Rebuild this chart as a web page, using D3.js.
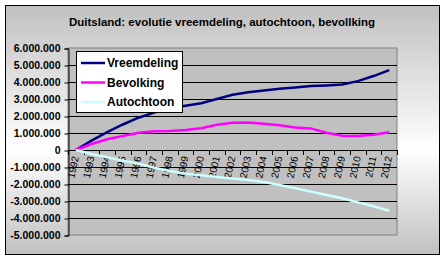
<!DOCTYPE html>
<html>
<head>
<meta charset="utf-8">
<script src="https://cdn.jsdelivr.net/npm/d3@7"></script>
<style>
  body { margin: 0; background: #fff; }
  svg { display: block; }
</style>
</head>
<body>
<div id="chart"></div>
<script>
// chart data
var years = ["1992", "1993", "1994", "1995", "1996", "1997", "1998", "1999", "2000", "2001", "2002",
             "2003", "2004", "2005", "2006", "2007", "2008", "2009", "2010", "2011", "2012"]
var vreemdeling = [0, 550000, 1050000, 1500000, 1900000, 2200000, 2450000, 2600000, 2750000, 3000000, 3250000,
                   3400000, 3500000, 3600000, 3680000, 3760000, 3800000, 3850000, 4050000, 4350000, 4700000]
var bevolking = [0, 350000, 630000, 820000, 1020000, 1100000, 1120000, 1180000, 1280000, 1480000, 1600000,
                 1620000, 1550000, 1450000, 1320000, 1270000, 1020000, 840000, 820000, 900000, 1050000]
var autochtoon = [0, -240000, -430000, -630000, -800000, -1040000, -1240000, -1390000, -1490000, -1590000, -1670000,
                  -1760000, -1880000, -2060000, -2250000, -2450000, -2650000, -2840000, -3080000, -3310000, -3570000]
var yTicks = [6000000, 5000000, 4000000, 3000000, 2000000, 1000000, 0, -1000000, -2000000, -3000000, -4000000, -5000000]

var series = [
  {name: "Vreemdeling", values: vreemdeling, color: "#000080"},
  {name: "Bevolking", values: bevolking, color: "#ff00ff"},
  {name: "Autochtoon", values: autochtoon, color: "#ccffff"}
]

var width = 445,
    height = 260

var plot = {left: 68, right: 397, top: 48, bottom: 235}

var svg = d3.select("#chart")
  .append("svg")
    .attr("width", width)
    .attr("height", height)
    .style("font-family", "Arial, 'Liberation Sans', sans-serif")

// background gradient of the chart area
var grad = svg.append("defs").append("linearGradient")
    .attr("id", "bg")
    .attr("x1", 0).attr("y1", 0).attr("x2", 0).attr("y2", 1)
grad.append("stop").attr("offset", "0%").attr("stop-color", "#c0c0c0")
grad.append("stop").attr("offset", "58%").attr("stop-color", "#ffffff")
grad.append("stop").attr("offset", "100%").attr("stop-color", "#c0c0c0")

svg.append("rect")
    .attr("x", 5.5).attr("y", 5.5)
    .attr("width", 434).attr("height", 249)
    .attr("fill", "url(#bg)")
    .attr("stroke", "#000")

// title
svg.append("text")
    .attr("x", 222)
    .attr("y", 26)
    .attr("text-anchor", "middle")
    .style("font-size", "11.5px")
    .style("font-weight", "bold")
    .text("Duitsland: evolutie vreemdeling, autochtoon, bevollking")

// scales
var x = d3.scaleBand()
  .domain(years)
  .range([plot.left, plot.right])

var y = d3.scaleLinear()
  .domain([-5000000, 6000000])
  .range([plot.bottom, plot.top])

// plot area
svg.append("rect")
    .attr("x", plot.left).attr("y", plot.top)
    .attr("width", plot.right - plot.left).attr("height", plot.bottom - plot.top)
    .attr("fill", "#c0c0c0")
    .attr("stroke", "#808080")

// gridlines
svg.append("g")
  .selectAll("line")
  .data(yTicks.filter(function(d) { return d < 6000000 && d > -5000000 }))
  .enter()
  .append("line")
    .attr("x1", plot.left).attr("x2", plot.right)
    .attr("y1", function(d) { return Math.round(y(d)) + 0.5 })
    .attr("y2", function(d) { return Math.round(y(d)) + 0.5 })
    .attr("stroke", "#000")

// y axis
var fmt = function(d) {
  return d3.format(",")(d).replace(/,/g, ".").replace("−", "-")
}
var yAxis = svg.append("g")
    .attr("transform", "translate(" + (plot.left + 0.5) + ",0.5)")
    .call(d3.axisLeft(y).tickValues(yTicks).tickFormat(fmt).tickSize(4).tickPadding(4))
yAxis.select(".domain").attr("stroke", "#000")
yAxis.selectAll("line").attr("stroke", "#000")
yAxis.selectAll("text")
    .attr("fill", "#000")
    .style("font-size", "10.5px")
    .style("font-weight", "bold")
    .style("font-family", "'Liberation Sans', Arial, sans-serif")

// x axis on the zero line, ticks between categories
var xg = svg.append("g")
xg.selectAll("line")
  .data(years.concat(["end"]))
  .enter()
  .append("line")
    .attr("x1", function(d, i) { return Math.round(plot.left + i * x.step()) + 0.5 })
    .attr("x2", function(d, i) { return Math.round(plot.left + i * x.step()) + 0.5 })
    .attr("y1", Math.round(y(0)))
    .attr("y2", Math.round(y(0)) + 5)
    .attr("stroke", "#000")
xg.append("line")
    .attr("x1", plot.left).attr("x2", plot.right)
    .attr("y1", Math.round(y(0)) + 0.5).attr("y2", Math.round(y(0)) + 0.5)
    .attr("stroke", "#000")

xg.selectAll("text")
  .data(years)
  .enter()
  .append("text")
    .attr("transform", function(d) {
      return "translate(" + (x(d) + x.bandwidth() / 2 + 3) + "," + (y(0) + 7) + ") rotate(-78)"
    })
    .attr("text-anchor", "end")
    .style("font-size", "10px")
    .text(function(d) { return d })

// lines
var line = d3.line()
  .x(function(d, i) { return x(years[i]) + x.bandwidth() / 2 })
  .y(function(d) { return y(d) })

svg.append("g")
  .selectAll("path")
  .data(series)
  .enter()
  .append("path")
    .attr("d", function(d) { return line(d.values) })
    .attr("fill", "none")
    .attr("stroke", function(d) { return d.color })
    .attr("stroke-width", 2.5)

// legend
var legend = svg.append("g")
legend.append("rect")
    .attr("x", 76.5).attr("y", 51.5)
    .attr("width", 106).attr("height", 61)
    .attr("fill", "#fff")
    .attr("stroke", "#000")

var items = legend.selectAll("g.item")
  .data(series)
  .enter()
  .append("g")
    .attr("class", "item")
    .attr("transform", function(d, i) { return "translate(0," + (63 + i * 19.5) + ")" })
items.append("line")
    .attr("x1", 81).attr("x2", 105)
    .attr("y1", 0).attr("y2", 0)
    .attr("stroke", function(d) { return d.color })
    .attr("stroke-width", 2.5)
items.append("text")
    .attr("x", 107)
    .attr("y", 4)
    .style("font-size", "12px")
    .style("font-weight", "bold")
    .text(function(d) { return d.name })
</script>
</body>
</html>
